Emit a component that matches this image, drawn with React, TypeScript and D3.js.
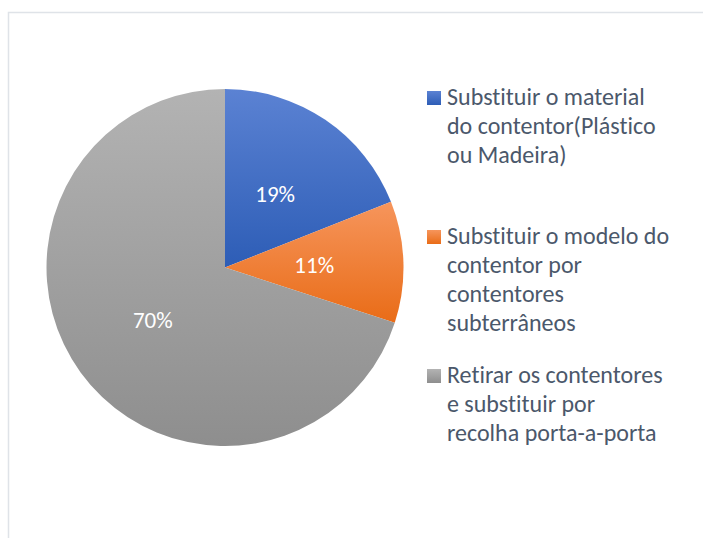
import { useMemo } from "react";
import * as d3 from "d3";

const width = 703;
const height = 538;

const categories = [
  ["Substituir o material", "do contentor(Plástico", "ou Madeira)"],
  ["Substituir o modelo do", "contentor por", "contentores", "subterrâneos"],
  ["Retirar os contentores", "e substituir por", "recolha porta-a-porta"],
];
const values = [19, 11, 70];
const gradients = [
  ["#5b82d3", "#2d5db6"],
  ["#f6955c", "#e96c17"],
  ["#b3b3b3", "#8e8e8e"],
];

const cx = 225;
const cy = 267.5;
const radius = 178.5;
const font = "Carlito, Calibri, Lato, sans-serif";

const App = () => {
  const arcs = useMemo(
    () => d3.pie<number>().sort(null).value((d) => d)(values),
    []
  );
  const arc = d3.arc<d3.PieArcDatum<number>>().innerRadius(0).outerRadius(radius);
  const total = d3.sum(values);

  return (
    <svg
      width={width}
      height={height}
      style={{ position: "absolute", left: 0, top: 0, background: "#fff", fontVariantLigatures: "none" }}
    >
      <defs>
        {gradients.map((g, i) => (
          <linearGradient key={i} id={`grad${i}`} x1="0" y1="0" x2="0" y2="1">
            <stop offset="0" stopColor={g[0]} />
            <stop offset="1" stopColor={g[1]} />
          </linearGradient>
        ))}
      </defs>
      <rect x={8.5} y={12.5} width={720} height={560} fill="none" stroke="#dfe3e8" strokeWidth={1.5} />

      <g transform={`translate(${cx},${cy})`}>
        {arcs.map((a, i) => (
          <path key={i} d={arc(a) ?? ""} fill={`url(#grad${i})`} />
        ))}
        {arcs.map((a, i) => {
          const [x, y] = arc.centroid(a);
          return (
            <text
              key={i}
              x={x}
              y={y}
              dy="0.35em"
              textAnchor="middle"
              fill="#fff"
              fontFamily={font}
              fontSize={23}
            >
              {Math.round((a.value / total) * 100)}%
            </text>
          );
        })}
      </g>

      <g className="legend">
        {categories.map((lines, i) => {
          const y0 = 97 + i * 139;
          return (
            <g key={i}>
              <rect x={427} y={y0 - 6} width={14} height={14} fill={`url(#grad${i})`} />
              {lines.map((l, j) => (
                <text
                  key={j}
                  x={447}
                  y={y0 + j * 29}
                  dy="0.35em"
                  fill="#4b586b"
                  fontFamily={font}
                  fontSize={24}
                >
                  {l}
                </text>
              ))}
            </g>
          );
        })}
      </g>
    </svg>
  );
};

export default App;
